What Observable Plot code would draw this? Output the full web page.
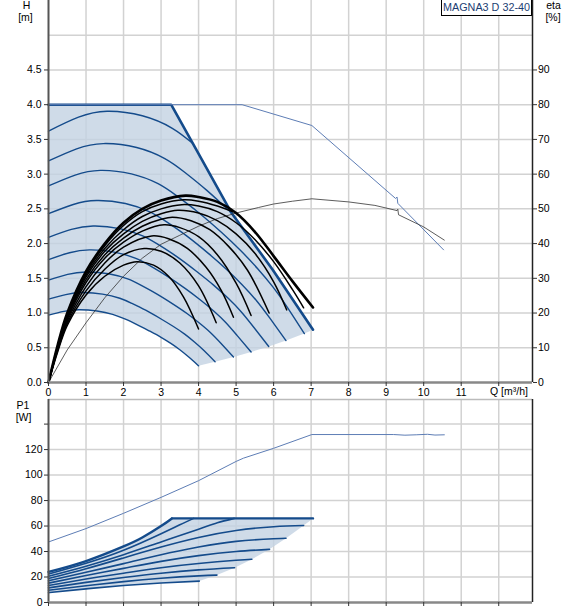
<!DOCTYPE html>
<html>
<head>
<meta charset="utf-8">
<script src="https://cdn.jsdelivr.net/npm/d3@7"></script>
<script src="https://cdn.jsdelivr.net/npm/@observablehq/plot@0.6"></script>
<style>
  html, body { margin: 0; padding: 0; background: #fff; }
  #wrap { position: relative; width: 574px; height: 611px; overflow: hidden; }
  #wrap svg { display: block; }
  #model {
    position: absolute; left: 441px; top: -1px; width: 91px; height: 17px;
    box-sizing: border-box; border: 1px solid #000; background: #fff;
    font: 10.8px "Liberation Sans", Arial, sans-serif; color: #1c3e73;
    text-align: center; line-height: 15px; white-space: nowrap;
  }
</style>
</head>
<body>
<div id="wrap"><div id="model">MAGNA3 D 32-40</div></div>
<script>
// ---------- axes / ticks ----------
const Q_MAX = 12.9;
const H_MAX = 5.5;
const P_MAX = 159.3;
const ETA_PER_H = 20;           // eta [%] = 20 * H [m] on this chart
const Q_TICKS = [0, 1, 2, 3, 4, 5, 6, 7, 8, 9, 10, 11, 12];
const Q_GRID = [1, 2, 3, 4, 5, 6, 7, 8, 9, 10, 11, 12];
const H_TICKS = [0, 0.5, 1.0, 1.5, 2.0, 2.5, 3.0, 3.5, 4.0, 4.5];
const H_GRID = [0.5, 1.0, 1.5, 2.0, 2.5, 3.0, 3.5, 4.0, 4.5, 5.0];
const ETA_TICKS = [0, 10, 20, 30, 40, 50, 60, 70, 80, 90];
const P_TICKS = [0, 20, 40, 60, 80, 100, 120, 140];
const P_GRID = [20, 40, 60, 80, 100, 120, 140];

// ---------- H curves [Q m3/h, H m] ----------
const hMax = [[0, 4.0], [3.27, 4.0], [3.85, 3.44], [4.88, 2.44], [5.98, 1.62], [7.05, 0.76]];
const hMin = [[7.05, 0.76], [6.82, 0.704], [6.33, 0.604], [5.87, 0.519], [5.4, 0.44], [4.93, 0.367], [4.44, 0.298], [4.0, 0.241]];
const hSpeed1 = [[0, 3.62], [0.8, 3.82], [1.56, 3.905], [2.5, 3.84], [3.3, 3.66], [3.85, 3.44]];
const hSpeed2 = [[0, 3.19], [0.75, 3.365], [1.46, 3.44], [2.35, 3.383], [3.1, 3.224], [3.62, 3.031], [4.22, 2.766], [4.88, 2.44]];
const hSpeed3 = [[0, 2.83], [0.71, 2.987], [1.38, 3.054], [2.21, 3.003], [2.92, 2.862], [3.41, 2.69], [3.98, 2.455], [4.6, 2.166], [5.12, 1.9], [5.57, 1.642], [5.98, 1.376], [6.37, 1.079], [6.82, 0.704]];
const hSpeed4 = [[0, 2.43], [0.66, 2.563], [1.28, 2.62], [2.05, 2.577], [2.7, 2.456], [3.16, 2.308], [3.69, 2.107], [4.26, 1.859], [4.74, 1.631], [5.16, 1.409], [5.54, 1.181], [5.9, 0.926], [6.33, 0.604]];
const hSpeed5 = [[0, 2.09], [0.61, 2.204], [1.19, 2.253], [1.9, 2.216], [2.51, 2.112], [2.93, 1.985], [3.42, 1.812], [3.95, 1.598], [4.4, 1.402], [4.79, 1.212], [5.14, 1.016], [5.47, 0.796], [5.87, 0.519]];
const hSpeed6 = [[0, 1.77], [0.56, 1.868], [1.09, 1.91], [1.75, 1.878], [2.31, 1.79], [2.7, 1.682], [3.15, 1.535], [3.64, 1.355], [4.05, 1.188], [4.41, 1.027], [4.73, 0.861], [5.03, 0.675], [5.4, 0.44]];
const hSpeed7 = [[0, 1.475], [0.51, 1.557], [1.0, 1.591], [1.6, 1.565], [2.11, 1.491], [2.46, 1.402], [2.87, 1.28], [3.32, 1.129], [3.7, 0.99], [4.02, 0.856], [4.32, 0.717], [4.6, 0.562], [4.93, 0.367]];
const hSpeed8 = [[0, 1.2], [0.46, 1.266], [0.9, 1.295], [1.44, 1.273], [1.9, 1.213], [2.22, 1.14], [2.59, 1.041], [2.99, 0.918], [3.33, 0.806], [3.63, 0.696], [3.89, 0.583], [4.15, 0.457], [4.44, 0.298]];
const hSpeed9 = [[0, 0.97], [0.41, 1.024], [0.81, 1.047], [1.29, 1.029], [1.71, 0.981], [2.0, 0.922], [2.33, 0.842], [2.69, 0.742], [3.0, 0.651], [3.26, 0.563], [3.5, 0.472], [3.73, 0.37], [4.0, 0.241]];
const hLimit = [[0, 4.0], [5.16, 4.0], [7.02, 3.7], [9.25, 2.65], [9.29, 2.67], [9.31, 2.58], [10.53, 1.91]];

// ---------- eta curves [Q m3/h, eta %] ----------
const etaLimit = [[0, 0], [0.5, 9.4], [1, 17.2], [1.5, 24.4], [2, 30.6], [2.5, 35.8], [3, 39.8], [3.5, 42.4], [4, 45], [4.5, 47.2], [5, 48.8], [5.6, 50.4], [6, 51.4], [6.5, 52.2], [7.02, 52.9], [8, 52], [8.7, 51], [9.29, 49.5], [9.31, 49.9], [9.33, 48.3], [10, 44.8], [10.55, 41]];
const etaMax = [[0, 0], [0.25, 11], [0.5, 20], [1, 32], [1.5, 40], [2, 46], [2.5, 50], [3, 52.4], [3.65, 53.8], [4, 53.4], [4.5, 52], [5, 48.8], [5.5, 43.4], [6, 36.4], [6.5, 29.2], [7.05, 21.6]];
const etaSpeed2 = [[0, 0], [0.25, 10.8], [0.5, 19.8], [1, 31.6], [1.5, 39.4], [2, 45.2], [2.5, 49.2], [3, 51.4], [3.6, 52.6], [4, 52.2], [4.5, 50.8], [4.9, 49.2]];
const etaSpeed3 = [[0, 0], [0.25, 10.6], [0.5, 19.4], [1, 31], [1.5, 38.6], [2, 44], [2.5, 47.8], [3, 50], [3.55, 51.2], [4, 50.8], [4.5, 49.2], [5, 46], [5.5, 41.2], [6, 34.8], [6.5, 26.8], [6.8, 21.5]];
const etaSpeed4 = [[0, 0], [0.25, 10.4], [0.5, 19], [1, 30.4], [1.5, 37.8], [2, 42.8], [2.5, 46.4], [3, 48.6], [3.45, 49.6], [4, 48.8], [4.5, 46.6], [5, 42.8], [5.5, 37.2], [6, 29], [6.35, 20.9]];
const etaSpeed5 = [[0, 0], [0.25, 10.2], [0.5, 18.6], [1, 29.6], [1.5, 36.8], [2, 41.6], [2.5, 45], [3, 47], [3.3, 47.6], [3.8, 46.6], [4.3, 44], [4.8, 39.2], [5.3, 32.4], [5.88, 20]];
const etaSpeed6 = [[0, 0], [0.25, 10], [0.5, 18.2], [1, 28.8], [1.5, 35.8], [2, 40.4], [2.5, 43.6], [3.08, 45.4], [3.5, 44.6], [4, 42], [4.5, 36.8], [5, 28.6], [5.4, 19.3]];
const etaSpeed7 = [[0, 0], [0.25, 9.8], [0.5, 17.6], [1, 27.6], [1.5, 34.4], [2, 39], [2.75, 42.2], [3.2, 41.4], [3.7, 38.6], [4.2, 33.2], [4.6, 26.6], [4.93, 18.8]];
const etaSpeed8 = [[0, 0], [0.25, 9.4], [0.5, 17], [1, 26.4], [1.5, 32.6], [2, 36.8], [2.55, 38.6], [3, 37.8], [3.5, 34.4], [4, 27.8], [4.47, 17.2]];
const etaSpeed9 = [[0, 0], [0.25, 9], [0.5, 16.4], [1, 25.2], [1.5, 30.6], [2, 33.8], [2.36, 34.8], [2.8, 33.8], [3.2, 30.6], [3.6, 24.6], [4.0, 15.4]];

// ---------- P1 curves [Q m3/h, P1 W] ----------
const pMaxRise = [[0, 24], [1, 32.5], [2, 44], [2.5, 51], [3, 60], [3.29, 66]];
const pMaxFlat = [[3.29, 66], [7.05, 66]];
const pMin = [[7.05, 66], [6.8, 60.4], [6.33, 50.4], [5.89, 41.7], [5.42, 33.9], [4.96, 27.3], [4.49, 21.5], [4.02, 16.8]];
const pSpeed1 = [[0, 22.3], [1, 30.8], [2, 41], [3, 54], [3.5, 61], [3.87, 66]];
const pSpeed2 = [[0, 20.6], [1, 28.5], [2, 37.5], [3, 47.5], [4, 57.5], [4.5, 62.5], [4.95, 66]];
const pSpeed3 = [[0, 18.8], [1, 26.5], [2, 35], [3, 43.5], [4, 51], [5, 56.5], [6, 59.5], [6.8, 60.4]];
const pSpeed4 = [[0, 17], [1, 23.8], [2, 30.5], [3, 37.5], [4, 43.5], [5, 48], [6, 50], [6.33, 50.4]];
const pSpeed5 = [[0, 15.2], [1, 21.2], [2, 26.8], [3, 32.3], [4, 36.8], [5, 40], [5.89, 41.7]];
const pSpeed6 = [[0, 13.4], [1, 18.5], [2, 23], [3, 27.3], [4, 30.6], [5, 33.1], [5.42, 33.9]];
const pSpeed7 = [[0, 11.5], [1, 15.8], [2, 19.6], [3, 23], [4, 25.6], [4.96, 27.3]];
const pSpeed8 = [[0, 9.6], [1, 13.2], [2, 16.4], [3, 19], [4, 20.9], [4.49, 21.5]];
const pSpeed9 = [[0, 7.7], [1, 10.7], [2, 13.3], [3, 15.3], [4.02, 16.8]];
const pLimit = [[0, 47.5], [1, 58], [2, 70], [3, 82.5], [4, 95.6], [5, 110.7], [5.2, 113.3], [6, 121], [7.02, 131.8], [9.2, 131.8], [9.5, 131.3], [9.8, 131.6], [10.1, 132], [10.3, 131.4], [10.55, 131.6]];

// ---------- styling ----------
const BLUE = "#144b8b";
const THIN_BLUE = "#5d7db5";
const FILL = "#c3d2e2";
const GRID = "#d2d2d2";
const FONT = "'Liberation Sans', Arial, sans-serif";

// ---------- tables ----------
const rows = (name, pts) => pts.map(([q, v]) => ({curve: name, q, v}));
const many = (obj) => Object.entries(obj).flatMap(([k, pts]) => rows(k, pts));

const hSpeedRows = many({hSpeed1, hSpeed2, hSpeed3, hSpeed4, hSpeed5, hSpeed6, hSpeed7, hSpeed8, hSpeed9});
const topRegion = rows("region", [...hMax, ...hMin.slice(1), ...hSpeed9.slice().reverse()]);
const etaSpeedRows = many({etaSpeed2, etaSpeed3, etaSpeed4, etaSpeed5, etaSpeed6, etaSpeed7, etaSpeed8, etaSpeed9});
const pSpeedRows = many({pSpeed1, pSpeed2, pSpeed3, pSpeed4, pSpeed5, pSpeed6, pSpeed7, pSpeed8, pSpeed9});
const botRegion = rows("region", [...pMaxRise, ...pMaxFlat.slice(1), ...pMin.slice(1), ...pSpeed9.slice().reverse()]);
const etaY = d => d.v / ETA_PER_H;

const label = (txt, anchor, dx, dy) =>
  Plot.text([txt], {frameAnchor: anchor, text: d => d, dx, dy, lineAnchor: "middle", textAnchor: "middle", fill: "#000"});

const topPlot = Plot.plot({
  width: 574, height: 399,
  marginLeft: 48, marginRight: 42, marginTop: 0, marginBottom: 17,
  x: {domain: [0, Q_MAX]},
  y: {domain: [0, H_MAX]},
  style: {fontFamily: FONT, fontSize: "10.5px", color: "#000", background: "#fff", overflow: "visible"},
  marks: [
    Plot.ruleY(H_GRID, {stroke: GRID, strokeWidth: 1.5}),
    Plot.ruleX(Q_GRID, {stroke: GRID, strokeWidth: 1.5}),
    Plot.line(topRegion, {x: "q", y: "v", fill: FILL, fillOpacity: 0.8, stroke: "none"}),
    Plot.line(hSpeedRows, {x: "q", y: "v", z: "curve", stroke: BLUE, strokeWidth: 1.4, curve: "natural"}),
    Plot.line(rows("max", hMax), {x: "q", y: "v", stroke: BLUE, strokeWidth: 2.6}),
    Plot.line(rows("limit", hLimit), {x: "q", y: "v", stroke: THIN_BLUE, strokeWidth: 1}),
    Plot.line(rows("etaLimit", etaLimit), {x: "q", y: etaY, stroke: "#333", strokeWidth: 0.8}),
    Plot.line(etaSpeedRows, {x: "q", y: etaY, z: "curve", stroke: "#000", strokeWidth: 1.5, curve: "catmull-rom"}),
    Plot.line(rows("etaMax", etaMax), {x: "q", y: etaY, stroke: "#000", strokeWidth: 2.6, curve: "catmull-rom"}),
    Plot.ruleX([0], {stroke: "#555", strokeWidth: 2}),
    Plot.ruleX([Q_MAX], {stroke: "#222", strokeWidth: 1.5}),
    Plot.ruleY([0], {stroke: "#888", strokeWidth: 2.5}),
    Plot.axisX({ticks: Q_TICKS, tickSize: 4, tickPadding: 2, tickFormat: d => (d <= 11 ? String(d) : ""), label: null, stroke: "#333"}),
    Plot.axisY({ticks: H_TICKS, tickSize: 4, tickPadding: 3, tickFormat: d3.format(".1f"), label: null, stroke: "#333"}),
    Plot.axisY({anchor: "right", ticks: ETA_TICKS.map(e => e / ETA_PER_H), tickSize: 4, tickPadding: 1.5,
                tickFormat: d => String(Math.round(d * ETA_PER_H)), label: null, stroke: "#333"}),
    Plot.text(["Q [m³/h]"], {frameAnchor: "bottom-right", text: d => d, dx: -42.5, dy: 9.5, textAnchor: "start", lineAnchor: "middle", fill: "#000"}),
    label("H", "top-left", -22, 5),
    label("[m]", "top-left", -23, 17.5),
    label("eta", "top-right", 21, 5),
    label("[%]", "top-right", 20.5, 17.5)
  ]
});

const botPlot = Plot.plot({
  width: 574, height: 212,
  marginLeft: 48, marginRight: 42, marginTop: 0, marginBottom: 9,
  x: {domain: [0, Q_MAX]},
  y: {domain: [0, P_MAX]},
  style: {fontFamily: FONT, fontSize: "10.5px", color: "#000", background: "#fff", overflow: "visible"},
  marks: [
    Plot.ruleY(P_GRID, {stroke: GRID, strokeWidth: 1.5}),
    Plot.ruleX(Q_GRID, {stroke: GRID, strokeWidth: 1.5}),
    Plot.ruleY([P_MAX], {stroke: "#bbb", strokeWidth: 1.5}),
    Plot.line(botRegion, {x: "q", y: "v", fill: FILL, fillOpacity: 0.8, stroke: "none"}),
    Plot.line(pSpeedRows, {x: "q", y: "v", z: "curve", stroke: BLUE, strokeWidth: 1.6, curve: "natural"}),
    Plot.line(rows("pMaxRise", pMaxRise), {x: "q", y: "v", stroke: BLUE, strokeWidth: 2.4, curve: "natural"}),
    Plot.line(rows("pMaxFlat", pMaxFlat), {x: "q", y: "v", stroke: BLUE, strokeWidth: 2.4}),
    Plot.line(rows("pLimit", pLimit), {x: "q", y: "v", stroke: THIN_BLUE, strokeWidth: 1}),
    Plot.ruleX([0], {stroke: "#555", strokeWidth: 2}),
    Plot.ruleX([Q_MAX], {stroke: "#222", strokeWidth: 1.5}),
    Plot.ruleY([0], {stroke: "#888", strokeWidth: 2.5}),
    Plot.axisX({ticks: Q_TICKS, tickSize: 4, tickFormat: () => "", label: null, stroke: "#333"}),
    Plot.axisY({ticks: P_TICKS, tickSize: 4, tickPadding: 2, tickFormat: d => (d <= 120 ? String(d) : ""), label: null, stroke: "#333"}),
    label("P1", "top-left", -25.5, 6),
    label("[W]", "top-left", -25, 17.7)
  ]
});

const wrap = document.getElementById("wrap");
wrap.insertBefore(topPlot, wrap.firstChild);
wrap.insertBefore(botPlot, document.getElementById("model"));
</script>
</body>
</html>
